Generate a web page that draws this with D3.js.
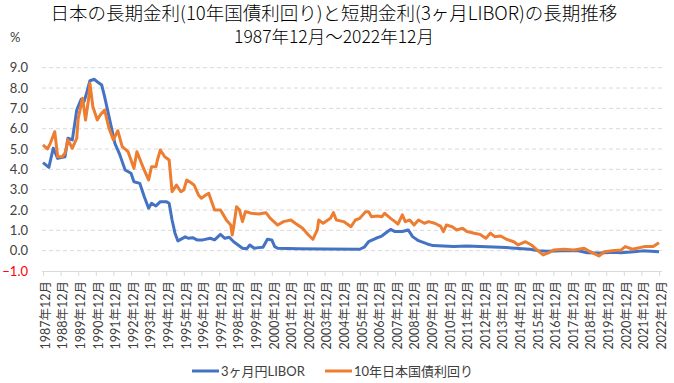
<!DOCTYPE html>
<html><head><meta charset="utf-8">
<script src="https://cdn.jsdelivr.net/npm/d3@7"></script>
<style>body{margin:0;background:#fff}svg{display:block}</style>
</head><body><svg id="c" width="674" height="383"></svg>
<script>
// months elapsed since 1987年12月 (0 = 1987-12, 420 = 2022-12)
const titleLines = ["日本の長期金利(10年国債利回り)と短期金利(3ヶ月LIBOR)の長期推移", "1987年12月～2022年12月"];
const seriesNames = ["3ヶ月円LIBOR", "10年日本国債利回り"];
const yTicks = [-1, 0, 1, 2, 3, 4, 5, 6, 7, 8, 9];
const yearLabels = d3.range(1987, 2023).map(y => y + "年12月");

const jgbMonths = [0,3,5,8,10,13,15,17,20,23,24,27,29,31,32,34,37,39,42,45,48,51,54,58,62,64,69,72,74,77,78,80,83,86,88,91,94,96,98,100,103,106,108,111,113,115,117,121,123,125,128,129,130,132,134,136,138,142,147,152,155,160,164,169,172,177,181,184,187,188,191,196,198,200,205,210,213,216,220,222,224,228,231,233,237,240,242,245,247,250,253,256,260,263,267,271,273,275,279,282,286,289,294,298,302,305,308,312,316,321,324,329,333,337,341,345,348,355,362,369,373,379,383,388,394,397,402,405,410,416,420];
const jgbValues = [5.2,5.0,5.28,5.85,4.62,4.62,4.79,5.45,5.04,5.53,6.51,7.5,6.43,7.41,8.23,7.08,6.43,6.67,6.92,6.02,5.45,5.9,5.12,4.87,4.05,4.87,3.97,3.48,4.13,4.13,4.46,4.95,4.62,4.46,2.9,3.23,2.9,2.99,3.48,3.39,3.23,2.74,2.58,2.74,2.82,2.41,2.0,2.0,1.76,1.51,1.26,0.77,1.18,2.16,2.0,1.43,1.92,1.84,1.8,1.87,1.59,1.26,1.43,1.51,1.35,1.1,0.77,0.56,1.02,1.51,1.35,1.59,1.87,1.51,1.43,1.18,1.51,1.59,1.92,1.92,1.67,1.7,1.67,1.84,1.59,1.43,1.31,1.76,1.43,1.51,1.26,1.51,1.35,1.43,1.35,1.21,0.94,1.26,1.18,1.02,1.1,0.94,0.86,0.8,0.61,0.86,0.69,0.72,0.56,0.44,0.28,0.44,0.28,0.03,-0.21,-0.1,0.03,0.07,0.03,0.12,-0.05,-0.26,-0.05,0.0,0.03,0.2,0.07,0.12,0.2,0.2,0.39];

const liborMonths = [0,4,7,10,15,17,20,23,26,28,30,32,35,37,40,42,45,47,49,52,54,56,60,62,66,69,72,74,77,80,84,86,88,90,92,97,99,102,105,109,114,117,121,124,127,130,133,136,139,141,144,147,150,153,156,158,160,174,192,216,219,222,227,231,235,237,240,245,249,252,256,262,266,273,280,289,298,316,332,338,344,354,365,371,380,389,394,403,409,420];
const liborValues = [4.33,4.1,5.04,4.54,4.62,5.53,5.45,6.92,7.45,7.33,7.82,8.36,8.43,8.31,8.15,7.58,6.59,5.94,5.28,4.79,4.38,3.97,3.81,3.39,3.31,2.66,2.09,2.33,2.2,2.41,2.41,2.33,1.51,0.86,0.48,0.68,0.61,0.64,0.53,0.53,0.61,0.53,0.8,0.61,0.66,0.44,0.28,0.12,0.1,0.28,0.12,0.15,0.17,0.56,0.53,0.2,0.12,0.1,0.08,0.07,0.17,0.44,0.61,0.72,0.94,1.05,0.94,0.94,1.02,0.69,0.49,0.33,0.25,0.23,0.2,0.23,0.2,0.15,0.07,0.0,-0.03,0.0,0.0,-0.1,-0.12,-0.08,-0.1,-0.05,-0.01,-0.05];

const colors = ["#4472C4", "#ED7D31"];
const svg = d3.select("#c");
const x = d3.scaleLinear().domain([0, 420]).range([43, 659]);
const y = d3.scaleLinear().domain([-1, 9]).range([271, 67.7]);
const txtFont = "Lato, 'Noto Sans CJK JP', sans-serif";

// title
svg.selectAll("text.title").data(titleLines).join("text")
  .attr("class", "title")
  .attr("x", 334).attr("y", (d, i) => i === 0 ? 20 : 43)
  .attr("text-anchor", "middle")
  .attr("font-family", "'Noto Sans CJK JP', sans-serif")
  .attr("font-weight", 300)
  .attr("font-size", (d, i) => i === 0 ? 18.5 : 17.5).attr("fill", "#000").text(d => d);
svg.append("text").attr("x", 10).attr("y", 42).attr("font-family", txtFont)
  .attr("font-size", 13).attr("fill", "#404040").text("%");

// gridlines
svg.append("g").selectAll("line").data(yTicks.filter(d => d > -1)).join("line")
  .attr("x1", 42).attr("x2", 662).attr("y1", d => y(d)).attr("y2", d => y(d))
  .attr("stroke", "#d9d9d9").attr("stroke-width", 1).attr("stroke-dasharray", "4,3");

// y axis labels
const yAxis = d3.axisLeft(y).tickValues(yTicks).tickSize(0).tickFormat(d3.format(".1f"));
const gy = svg.append("g").attr("transform", "translate(30,0)").call(yAxis);
gy.select(".domain").remove();
gy.selectAll("text").attr("font-family", txtFont).attr("font-size", 13)
  .attr("fill", d => d < 0 ? "#FF0000" : "#404040").attr("x", -2);

// x axis
const tickMonths = d3.range(0, 421, 12);
const xAxis = d3.axisBottom(x).tickValues(tickMonths).tickSize(5).tickFormat((d, i) => yearLabels[i]);
const gx = svg.append("g").attr("transform", `translate(0,${y(-1)})`).call(xAxis);
gx.select(".domain").attr("d", "M42,0.5H662").attr("stroke", "#d9d9d9");
gx.selectAll(".tick line").attr("stroke", "#d9d9d9");
gx.selectAll("text").attr("font-family", txtFont).attr("font-size", 12.5).attr("fill", "#404040")
  .attr("text-anchor", "end").attr("transform", "rotate(-90)")
  .attr("x", -10).attr("y", 2).attr("dy", "0.35em");

// lines
const line = d3.line().x(d => x(d[0])).y(d => y(d[1]));
const libor = liborMonths.map((m, i) => [m, liborValues[i]]);
const jgb = jgbMonths.map((m, i) => [m, jgbValues[i]]);
svg.append("path").datum(libor).attr("d", line).attr("fill", "none")
  .attr("stroke", colors[0]).attr("stroke-width", 3).attr("stroke-linejoin", "round");
svg.append("path").datum(jgb).attr("d", line).attr("fill", "none")
  .attr("stroke", colors[1]).attr("stroke-width", 3).attr("stroke-linejoin", "round");

// legend
const legendX = [192, 325];
seriesNames.forEach((n, i) => {
  svg.append("line").attr("x1", legendX[i]).attr("x2", legendX[i] + 27)
    .attr("y1", 371).attr("y2", 371).attr("stroke", colors[i]).attr("stroke-width", 3);
  svg.append("text").attr("x", legendX[i] + 29).attr("y", 376)
    .attr("font-family", txtFont).attr("font-size", 13).attr("fill", "#404040").text(n);
});
</script></body></html>
